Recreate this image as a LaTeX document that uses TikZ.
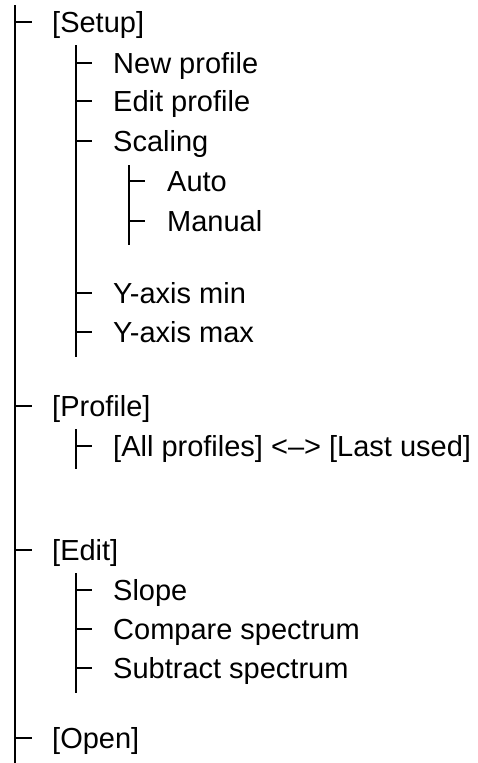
\documentclass[tikz,border=0pt]{standalone}
\usepackage{fontspec}
\setmainfont{Liberation Sans}
\begin{document}
\begin{tikzpicture}[x=1pt,y=-1pt,
  item/.style={anchor=west,inner sep=0pt,text height=20pt,text depth=0pt,font=\fontsize{29}{31}\selectfont},
  thick line/.style={line width=1.9pt},
  thin line/.style={line width=1.1pt}]
\useasboundingbox (0,0) rectangle (478,763);
% vertical line coordinates
\coordinate (mtop) at (15,5);
\coordinate (mbot) at (15,763);
\coordinate (sAtop) at (76,45);
\coordinate (sAbot) at (76,357);
\coordinate (sBtop) at (76,429);
\coordinate (sBbot) at (76,469);
\coordinate (sCtop) at (76,573);
\coordinate (sCbot) at (76,693);
\coordinate (tAtop) at (129,165);
\coordinate (tAbot) at (129,245);
% level 1
\node[item] (setup) at (52,22) {[Setup]};
\node[item] (profile) at (52,406) {[Profile]};
\node[item] (edit) at (52,550) {[Edit]};
\node[item] (open) at (52,738) {[Open]};
% level 2
\node[item] (newp) at (113,63) {New profile};
\node[item] (editp) at (113,101) {Edit profile};
\node[item] (scaling) at (113,141) {Scaling};
\node[item] (ymin) at (113,293) {Y-axis min};
\node[item] (ymax) at (113,332) {Y-axis max};
\node[item] (allp) at (113,446) {[All profiles] <–> [Last used]};
\node[item] (slope) at (113,590) {Slope};
\node[item] (compare) at (113,629) {Compare spectrum};
\node[item] (subtract) at (113,668) {Subtract spectrum};
% level 3
\node[item] (auto) at (167,181) {Auto};
\node[item] (manual) at (167,221) {Manual};
% vertical lines
\draw[thick line] (mtop) -- (mbot);
\draw[thick line] (sAtop) -- (sAbot);
\draw[thick line] (sBtop) -- (sBbot);
\draw[thick line] (sCtop) -- (sCbot);
\draw[thin line] (tAtop) -- (tAbot);
% ticks level 1
\foreach \n in {setup,profile,edit,open}
  \draw[thick line] (mtop |- \n.west) -- ([xshift=-20pt]\n.west);
% ticks level 2
\foreach \n in {newp,editp,scaling,ymin,ymax,allp,slope,compare,subtract}
  \draw[thick line] (sAtop |- \n.west) -- ([xshift=-21pt]\n.west);
% ticks level 3
\foreach \n in {auto,manual}
  \draw[thin line] (tAtop |- \n.west) -- ([xshift=-22pt]\n.west);
\end{tikzpicture}
\end{document}
